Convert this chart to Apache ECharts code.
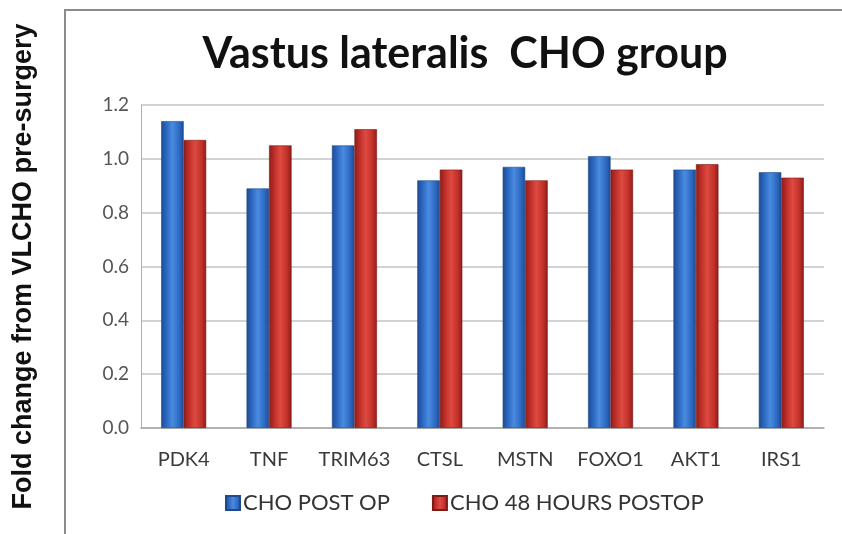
<!DOCTYPE html>
<html>
<head>
<meta charset="utf-8">
<script src="https://cdn.jsdelivr.net/npm/echarts@6/dist/echarts.min.js"></script>
<style>
  html, body { margin: 0; padding: 0; background: #ffffff; }
  #chart { width: 842px; height: 534px; }
</style>
</head>
<body>
<div id="chart"></div>
<script>
// Genes measured in vastus lateralis
const genes = ['PDK4', 'TNF', 'TRIM63', 'CTSL', 'MSTN', 'FOXO1', 'AKT1', 'IRS1'];
// Fold change relative to VLCHO pre-surgery
const postOp = [1.14, 0.89, 1.05, 0.92, 0.97, 1.01, 0.96, 0.95];
const postOp48h = [1.07, 1.05, 1.11, 0.96, 0.92, 0.96, 0.98, 0.93];
const seriesNames = ['CHO POST OP', 'CHO 48 HOURS POSTOP'];
const yTicks = [0, 0.2, 0.4, 0.6, 0.8, 1.0, 1.2];

const labelFont = '"Lato", "Open Sans", sans-serif';

// Horizontal gradient giving the bars a rounded, cylinder-like look
function cylinder(dark, mid, light) {
  return new echarts.graphic.LinearGradient(0, 0, 1, 0, [
    { offset: 0, color: dark },
    { offset: 0.25, color: mid },
    { offset: 0.5, color: light },
    { offset: 0.8, color: mid },
    { offset: 1, color: dark }
  ]);
}

const chart = echarts.init(document.getElementById('chart'), null, { renderer: 'canvas' });

chart.setOption({
  backgroundColor: '#ffffff',
  animation: false,
  title: {
    text: 'Vastus lateralis  CHO group',
    left: 460,
    top: 28,
    textAlign: 'center',
    textStyle: {
      fontFamily: labelFont,
      fontWeight: 'bold',
      fontSize: 43,
      color: '#111111'
    }
  },
  graphic: [
    {
      type: 'rect',
      shape: { x: 65, y: 10, width: 820, height: 560 },
      style: { fill: 'none', stroke: '#8c8c8c', lineWidth: 2 },
      z: -1
    }
  ],
  legend: {
    data: seriesNames,
    bottom: 15,
    left: 220,
    itemWidth: 14,
    itemHeight: 14,
    itemGap: 42,
    icon: 'rect',
    textStyle: {
      fontFamily: labelFont,
      fontSize: 22,
      color: '#333333',
      padding: [0, 0, 0, -2]
    }
  },
  grid: {
    left: 141,
    right: 18,
    top: 105,
    bottom: 106,
    containLabel: false
  },
  xAxis: {
    type: 'category',
    data: genes,
    axisLine: { show: true, lineStyle: { color: '#a6a6a6', width: 1.5 } },
    axisTick: { show: false },
    axisLabel: {
      interval: 0,
      hideOverlap: false,
      fontFamily: labelFont,
      fontSize: 20,
      color: '#3a3a3a',
      margin: 22
    }
  },
  yAxis: {
    type: 'value',
    min: 0,
    max: 1.2,
    interval: 0.2,
    name: 'Fold change from VLCHO pre-surgery',
    nameLocation: 'middle',
    nameGap: 104,
    nameTextStyle: {
      fontFamily: '"Liberation Sans", Arial, sans-serif',
      fontWeight: 'bold',
      fontSize: 27,
      color: '#111111'
    },
    axisLine: { show: true, lineStyle: { color: '#b0b0b0', width: 1 } },
    axisTick: { show: false },
    splitLine: { show: true, lineStyle: { color: '#c4c4c4', width: 1.5 } },
    axisLabel: {
      fontFamily: labelFont,
      fontSize: 19,
      color: '#555555',
      margin: 12,
      formatter: function (v) {
        return yTicks.some(t => Math.abs(t - v) < 1e-9) ? v.toFixed(1) : '';
      }
    }
  },
  series: [
    {
      name: seriesNames[0],
      type: 'bar',
      data: postOp,
      barWidth: 22.5,
      barGap: '0%',
      color: '#2e6cc4',
      itemStyle: {
        color: cylinder('#1d4a93', '#2d6ac2', '#4a8be0'),
        borderColor: '#1f4a8c',
        borderWidth: 0.6
      }
    },
    {
      name: seriesNames[1],
      type: 'bar',
      data: postOp48h,
      barWidth: 22.5,
      barGap: '0%',
      color: '#c0302a',
      itemStyle: {
        color: cylinder('#8a1d18', '#c2302a', '#dd4a40'),
        borderColor: '#7f1a16',
        borderWidth: 0.6
      }
    }
  ]
});
</script>
</body>
</html>
